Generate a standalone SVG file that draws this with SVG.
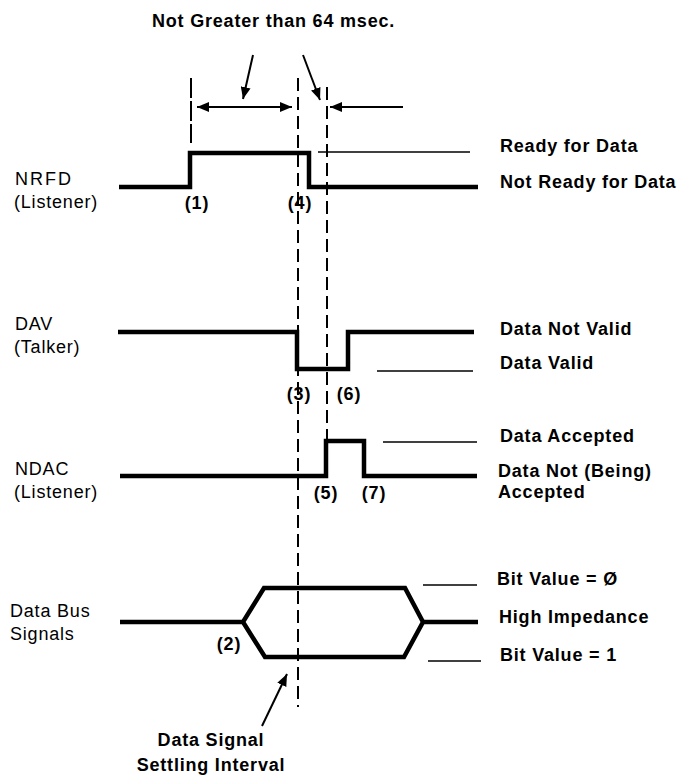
<svg xmlns="http://www.w3.org/2000/svg" width="683" height="776" viewBox="0 0 683 776">
<style>
text{font-family:"Liberation Sans",Arial,sans-serif;font-size:18px;fill:#000;letter-spacing:0.8px}
.b{font-weight:bold}
.sig{fill:none;stroke:#000;stroke-width:4.5;stroke-linejoin:miter;stroke-linecap:butt}
.thin{fill:none;stroke:#000;stroke-width:1.6}
.dash{fill:none;stroke:#000;stroke-width:2;stroke-dasharray:13 6}
.dash2{fill:none;stroke:#000;stroke-width:2;stroke-dasharray:20 3}
.arr{fill:none;stroke:#000;stroke-width:2}
.mid{text-anchor:middle}
</style>
<defs>
<marker id="ah" viewBox="0 0 12 10" refX="12" refY="5" markerWidth="12" markerHeight="10" markerUnits="userSpaceOnUse" orient="auto-start-reverse">
<path d="M0,0 L12,5 L0,10 z" fill="#000"/>
</marker>
</defs>
<rect width="683" height="776" fill="#fff"/>

<g id="title">
<text class="b" x="152" y="27">Not Greater than 64 msec.</text>
</g>

<g id="nrfd">
<text x="15" y="185" style="letter-spacing:2px">NRFD</text>
<text x="14" y="208">(Listener)</text>
<path class="sig" d="M119,187 H190 V153 H309 V187 H478"/>
<path class="thin" d="M318,152 H470"/>
<text class="b mid" x="197" y="209">(1)</text>
<text class="b mid" x="300" y="209">(4)</text>
<text class="b" x="500" y="152">Ready for Data</text>
<text class="b" x="500" y="188">Not Ready for Data</text>
</g>

<g id="dav">
<text x="15" y="330">DAV</text>
<text x="14" y="353">(Talker)</text>
<path class="sig" d="M118,332 H297 V369 H348 V332 H474"/>
<path class="thin" d="M377,371 H473"/>
<text class="b mid" x="299" y="400">(3)</text>
<text class="b mid" x="349" y="400">(6)</text>
<text class="b" x="500" y="335">Data Not Valid</text>
<text class="b" x="500" y="369">Data Valid</text>
</g>

<g id="ndac">
<text x="15" y="475">NDAC</text>
<text x="14" y="498">(Listener)</text>
<path class="sig" d="M120,476 H326 V441 H364 V476 H477"/>
<path class="thin" d="M383,442 H477"/>
<text class="b mid" x="326" y="499">(5)</text>
<text class="b mid" x="374" y="499">(7)</text>
<text class="b" x="500" y="442">Data Accepted</text>
<text class="b" x="498" y="477">Data Not (Being)</text>
<text class="b" x="498" y="498">Accepted</text>
</g>

<g id="databus">
<text x="10" y="617">Data Bus</text>
<text x="10" y="640">Signals</text>
<path class="sig" d="M120,622 H243 L264,588 H405 L423,622 L404,657 H265 L243,622"/>
<path class="sig" d="M423,622 H478"/>
<path class="thin" d="M423,585 H477"/>
<path class="thin" d="M428,661 H481"/>
<text class="b mid" x="229" y="650">(2)</text>
<text class="b" x="497" y="585">Bit Value = Ø</text>
<text class="b" x="499" y="623">High Impedance</text>
<text class="b" x="500" y="661">Bit Value = 1</text>
</g>

<g id="settling-label">
<text class="b mid" x="211" y="746">Data Signal</text>
<text class="b mid" x="211" y="771">Settling Interval</text>
</g>

<g id="connectors">
<path class="dash2" d="M191,78 V143"/>
<path class="dash" d="M298,78 V707"/>
<path class="dash" d="M327,87 V441"/>
<path class="arr" d="M197,107 H292" marker-start="url(#ah)" marker-end="url(#ah)"/>
<path class="arr" d="M403,107 H330" marker-end="url(#ah)"/>
<path class="arr" d="M253,55 L243,99" marker-end="url(#ah)"/>
<path class="arr" d="M303,55 L320,100" marker-end="url(#ah)"/>
<path class="arr" d="M262,726 L287,674" marker-end="url(#ah)"/>
</g>
</svg>
